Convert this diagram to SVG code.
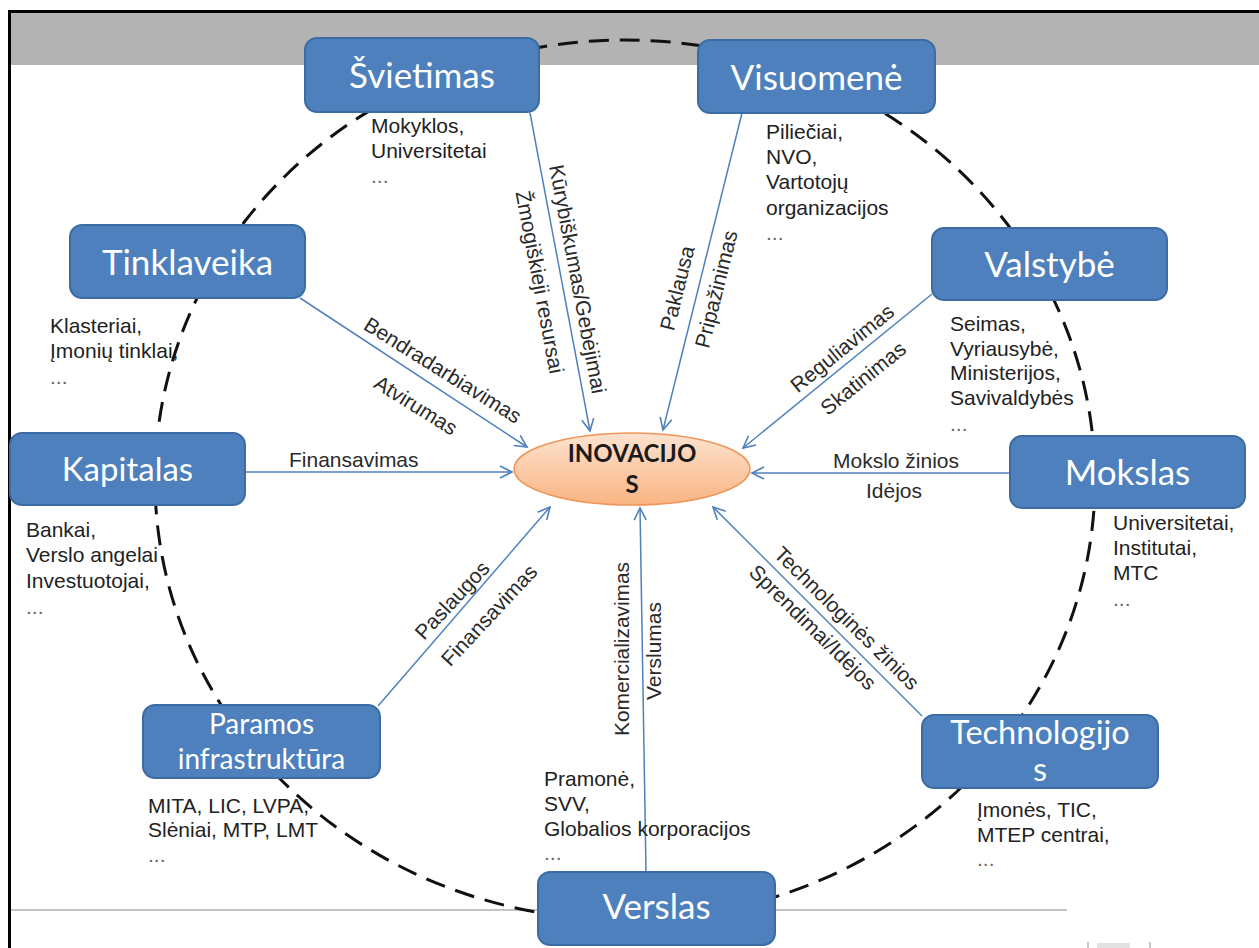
<svg xmlns="http://www.w3.org/2000/svg" width="1259" height="948" viewBox="0 0 1259 948">
  <defs>
    <linearGradient id="coreFill" x1="0" y1="0" x2="0" y2="1">
      <stop offset="0" stop-color="#FDE3CF"/>
      <stop offset="1" stop-color="#F9B482"/>
    </linearGradient>
    <marker id="arrow" markerUnits="userSpaceOnUse" viewBox="0 0 16 14" markerWidth="16" markerHeight="14" refX="14" refY="7" orient="auto">
      <path d="M2,1 L14,7 L2,13" fill="none" stroke="#4F81BD" stroke-width="1.6"/>
    </marker>
  </defs>
  <style>
    .box{fill:#4D80BC;stroke:#3D6BA3;stroke-width:2}
    .title{font-family:Lato,"Open Sans",sans-serif;fill:#ffffff;font-size:35px;text-anchor:middle}
    .desc{font-family:"Liberation Sans",Arial,sans-serif;font-size:21px;fill:#222222}
    .dots{fill:#666666}
    .flow{stroke:#4F81BD;stroke-width:1.5;fill:none;marker-end:url(#arrow)}
    .lbl{font-family:"Liberation Sans",Arial,sans-serif;font-size:21px;fill:#2a2a2a;text-anchor:middle}
    .lblh{font-family:"Liberation Sans",Arial,sans-serif;font-size:21px;fill:#2a2a2a}
  </style>

  <!-- page frame -->
  <rect x="0" y="0" width="1259" height="948" fill="#ffffff"/>
  <rect x="10" y="12" width="1249" height="53" fill="#B3B3B3"/>
  <line x1="8" y1="11.5" x2="1259" y2="11.5" stroke="#000" stroke-width="3"/>
  <line x1="9.5" y1="10" x2="9.5" y2="948" stroke="#000" stroke-width="3"/>
  <line x1="11" y1="910" x2="1067" y2="910" stroke="#C4C4C4" stroke-width="2"/>
  <g id="corner-mark" fill="none" stroke="#C8C8C8" stroke-width="2">
    <rect x="1097" y="943" width="33" height="6" fill="#E2E2E2" stroke="none"/>
    <line x1="1088" y1="942" x2="1088" y2="948"/>
    <line x1="1150" y1="942" x2="1150" y2="948"/>
  </g>

  <!-- dashed boundary -->
  <ellipse id="ring" cx="625" cy="480" rx="470" ry="440" fill="none" stroke="#111" stroke-width="3" stroke-dasharray="20 11"/>

  <!-- connectors and their labels -->
  <g id="connectors">
    <line class="flow" x1="530" y1="113" x2="590" y2="431"/>
    <line class="flow" x1="742" y1="113" x2="663" y2="430"/>
    <line class="flow" x1="300" y1="298" x2="527" y2="447"/>
    <line class="flow" x1="245" y1="472" x2="512" y2="472"/>
    <line class="flow" x1="932" y1="294" x2="743" y2="448"/>
    <line class="flow" x1="1010" y1="473" x2="752" y2="473"/>
    <line class="flow" x1="378" y1="706" x2="550" y2="507"/>
    <line class="flow" x1="646" y1="872" x2="640" y2="508"/>
    <line class="flow" x1="922" y1="716" x2="713" y2="507"/>

    <text class="lbl" transform="translate(578,279) rotate(79.3)" y="7.5">Kūrybiškumas/Gebėjimai</text>
    <text class="lbl" transform="translate(540,282) rotate(79.3)" y="7.5">Žmogiškieji resursai</text>
    <text class="lbl" transform="translate(677,288) rotate(-76)" y="7.5">Paklausa</text>
    <text class="lbl" transform="translate(716,289) rotate(-76)" y="7.5">Pripažinimas</text>
    <text class="lbl" transform="translate(443,370) rotate(32)" y="7.5">Bendradarbiavimas</text>
    <text class="lbl" transform="translate(416,405) rotate(32)" y="7.5">Atvirumas</text>
    <text class="lblh" x="289" y="467">Finansavimas</text>
    <text class="lbl" transform="translate(842,348) rotate(-39)" y="7.5">Reguliavimas</text>
    <text class="lbl" transform="translate(863,378) rotate(-39)" y="7.5">Skatinimas</text>
    <text class="lblh" x="833" y="468">Mokslo žinios</text>
    <text class="lblh" x="866" y="498">Idėjos</text>
    <text class="lbl" transform="translate(452,600) rotate(-47)" y="7.5">Paslaugos</text>
    <text class="lbl" transform="translate(489,615) rotate(-47)" y="7.5">Finansavimas</text>
    <text class="lbl" transform="translate(621,649) rotate(-90)" y="7.5" textLength="174" lengthAdjust="spacingAndGlyphs">Komercializavimas</text>
    <text class="lbl" transform="translate(653,651) rotate(-90)" y="7.5">Verslumas</text>
    <text class="lbl" transform="translate(847,618) rotate(44.5)" y="7.5">Technologinės žinios</text>
    <text class="lbl" transform="translate(813,627) rotate(44.5)" y="7.5">Sprendimai/Idėjos</text>
  </g>

  <!-- outer nodes -->
  <g id="svietimas">
    <rect class="box" x="305" y="38" width="234" height="74" rx="12"/>
    <text class="title" x="422" y="88">Švietimas</text>
    <text class="desc" x="371" y="133">
      <tspan x="371">Mokyklos,</tspan>
      <tspan x="371" dy="25">Universitetai</tspan>
      <tspan x="371" dy="25" class="dots">...</tspan>
    </text>
  </g>

  <g id="visuomene">
    <rect class="box" x="698" y="40" width="237" height="73" rx="12"/>
    <text class="title" x="816.5" y="90">Visuomenė</text>
    <text class="desc" x="766" y="139">
      <tspan x="766">Piliečiai,</tspan>
      <tspan x="766" dy="25">NVO,</tspan>
      <tspan x="766" dy="25">Vartotojų</tspan>
      <tspan x="766" dy="26">organizacijos</tspan>
      <tspan x="766" dy="25" class="dots">...</tspan>
    </text>
  </g>

  <g id="tinklaveika">
    <rect class="box" x="70" y="225" width="235" height="73" rx="12"/>
    <text class="title" x="187.5" y="275">Tinklaveika</text>
    <text class="desc" x="50" y="333">
      <tspan x="50">Klasteriai,</tspan>
      <tspan x="50" dy="25">Įmonių tinklai,</tspan>
      <tspan x="50" dy="26" class="dots">...</tspan>
    </text>
  </g>

  <g id="kapitalas">
    <rect class="box" x="10" y="433" width="235" height="72" rx="12"/>
    <text class="title" x="127.5" y="481" style="font-size:33px">Kapitalas</text>
    <text class="desc" x="26" y="537">
      <tspan x="26">Bankai,</tspan>
      <tspan x="26" dy="25">Verslo angelai</tspan>
      <tspan x="26" dy="26">Investuotojai,</tspan>
      <tspan x="26" dy="26" class="dots">...</tspan>
    </text>
  </g>

  <g id="valstybe">
    <rect class="box" x="932" y="228" width="235" height="72" rx="12"/>
    <text class="title" x="1049.5" y="277">Valstybė</text>
    <text class="desc" x="950" y="331">
      <tspan x="950">Seimas,</tspan>
      <tspan x="950" dy="25">Vyriausybė,</tspan>
      <tspan x="950" dy="24">Ministerijos,</tspan>
      <tspan x="950" dy="25">Savivaldybės</tspan>
      <tspan x="950" dy="26" class="dots">...</tspan>
    </text>
  </g>

  <g id="mokslas">
    <rect class="box" x="1010" y="436" width="235" height="72" rx="12"/>
    <text class="title" x="1127.5" y="485">Mokslas</text>
    <text class="desc" x="1113" y="530">
      <tspan x="1113">Universitetai,</tspan>
      <tspan x="1113" dy="25">Institutai,</tspan>
      <tspan x="1113" dy="25">MTC</tspan>
      <tspan x="1113" dy="26" class="dots">...</tspan>
    </text>
  </g>

  <g id="paramos-infrastruktura">
    <rect class="box" x="143" y="705" width="237" height="73" rx="12"/>
    <text class="title" x="261.5" y="734" style="font-size:28px">Paramos</text>
    <text class="title" x="261.5" y="769" style="font-size:28px">infrastruktūra</text>
    <text class="desc" x="148" y="813">
      <tspan x="148">MITA, LIC, LVPA,</tspan>
      <tspan x="148" dy="24">Slėniai, MTP, LMT</tspan>
      <tspan x="148" dy="25" class="dots">...</tspan>
    </text>
  </g>

  <g id="technologijos">
    <rect class="box" x="922" y="715" width="236" height="73" rx="12"/>
    <text class="title" x="1040" y="744" style="font-size:32.5px">Technologijo</text>
    <text class="title" x="1040" y="781" style="font-size:32.5px">s</text>
    <text class="desc" x="977" y="817">
      <tspan x="977">Įmonės, TIC,</tspan>
      <tspan x="977" dy="25">MTEP centrai,</tspan>
      <tspan x="977" dy="24" class="dots">...</tspan>
    </text>
  </g>

  <g id="verslas">
    <text class="desc" x="544" y="786">
      <tspan x="544">Pramonė,</tspan>
      <tspan x="544" dy="25">SVV,</tspan>
      <tspan x="544" dy="25">Globalios korporacijos</tspan>
      <tspan x="544" dy="24" class="dots">...</tspan>
    </text>
    <rect class="box" x="538" y="872" width="237" height="73" rx="12"/>
    <text class="title" x="656.5" y="919">Verslas</text>
  </g>

  <!-- central node -->
  <g id="inovacijos">
    <ellipse cx="632" cy="469" rx="118" ry="36" fill="url(#coreFill)" stroke="#F0955A" stroke-width="1.5"/>
    <text x="632" y="462" text-anchor="middle" font-family="Lato,'Open Sans',sans-serif" font-weight="bold" font-size="24" fill="#1a1a1a">INOVACIJO</text>
    <text x="632" y="493" text-anchor="middle" font-family="Lato,'Open Sans',sans-serif" font-weight="bold" font-size="24" fill="#1a1a1a">S</text>
  </g>
</svg>
